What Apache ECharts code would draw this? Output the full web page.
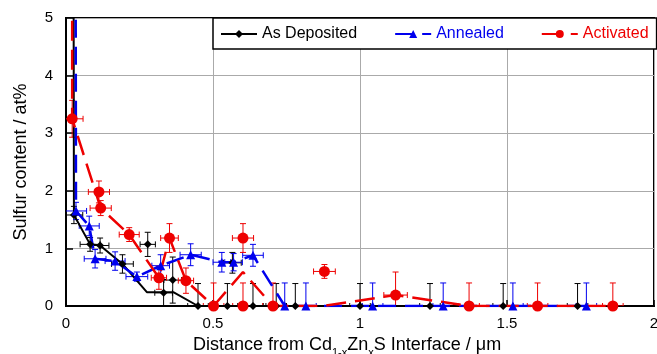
<!DOCTYPE html>
<html>
<head>
<meta charset="utf-8">
<script src="https://cdn.jsdelivr.net/npm/echarts@6/dist/echarts.min.js"></script>
<style>html,body{margin:0;padding:0;background:#fff}#c{width:657px;height:354px}</style>
</head>
<body>
<div id="c"></div>
<script>
// ---- data ----
var seriesNames = ['As Deposited', 'Annealed', 'Activated'];
var xTicks = ['0', '0.5', '1', '1.5', '2'];
var yTicks = ['0', '1', '2', '3', '4', '5'];

// measured points: [x, y, xErr, yErrMinus, yErrPlus]
var depositedPoints = [
  [0.027, 1.58, 0.03, 0.15, 0.15],
  [0.082, 1.07, 0.034, 0.12, 0.12],
  [0.116, 1.05, 0.03, 0.13, 0.13],
  [0.192, 0.73, 0.037, 0.16, 0.16],
  [0.278, 1.07, 0.026, 0.21, 0.21],
  [0.332, 0.23, 0.03, 0.23, 0.23],
  [0.363, 0.45, 0.03, 0.40, 0.40],
  [0.449, 0, 0.035, 0, 0.39],
  [0.549, 0, 0.035, 0, 0.39],
  [0.566, 0.75, 0.03, 0.18, 0.18],
  [0.636, 0, 0.035, 0, 0.39],
  [0.715, 0, 0.035, 0, 0.39],
  [0.78, 0, 0.035, 0, 0.39],
  [1.0, 0, 0.035, 0, 0.39],
  [1.238, 0, 0.035, 0, 0.39],
  [1.487, 0, 0.035, 0, 0.39],
  [1.74, 0, 0.035, 0, 0.39]
];
var annealedPoints = [
  [0.034, 1.65, 0.036, 0.15, 0.15],
  [0.079, 1.39, 0.034, 0.17, 0.17],
  [0.099, 0.82, 0.037, 0.16, 0.16],
  [0.167, 0.78, 0.034, 0.16, 0.16],
  [0.241, 0.51, 0.037, 0.08, 0.08],
  [0.322, 0.70, 0.03, 0.19, 0.19],
  [0.424, 0.89, 0.036, 0.19, 0.19],
  [0.53, 0.76, 0.03, 0.17, 0.17],
  [0.57, 0.76, 0.03, 0.15, 0.15],
  [0.636, 0.88, 0.035, 0.19, 0.19],
  [0.744, 0, 0.035, 0, 0.40],
  [0.816, 0, 0.035, 0, 0.40],
  [1.043, 0, 0.035, 0, 0.40],
  [1.283, 0, 0.035, 0, 0.40],
  [1.52, 0, 0.035, 0, 0.40],
  [1.77, 0, 0.035, 0, 0.40]
];
var activatedPoints = [
  [0.021, 3.25, 0.037, 0.32, 0.32],
  [0.112, 1.98, 0.036, 0.19, 0.19],
  [0.118, 1.70, 0.036, 0.13, 0.13],
  [0.215, 1.24, 0.034, 0.12, 0.12],
  [0.316, 0.49, 0.026, 0.20, 0.20],
  [0.352, 1.18, 0.03, 0.25, 0.25],
  [0.408, 0.44, 0.026, 0.22, 0.22],
  [0.502, 0, 0.035, 0, 0.40],
  [0.602, 1.18, 0.036, 0.25, 0.25],
  [0.602, 0, 0.035, 0, 0.40],
  [0.704, 0, 0.035, 0, 0.40],
  [0.879, 0.60, 0.037, 0.12, 0.12],
  [1.121, 0.19, 0.04, 0.40, 0.40],
  [1.371, 0, 0.035, 0, 0.40],
  [1.604, 0, 0.035, 0, 0.40],
  [1.86, 0, 0.035, 0, 0.40]
];
// connecting curves (first vertex lies above the visible range)
var depositedLine = [[0.024, 12], [0.027, 1.58], [0.082, 1.07], [0.116, 1.05], [0.192, 0.73], [0.275, 0.24], [0.365, 0.24], [0.449, 0], [1.74, 0]];
var annealedLine = [[0.031, 12], [0.034, 1.65], [0.079, 1.39], [0.099, 0.82], [0.167, 0.78], [0.241, 0.51], [0.322, 0.70], [0.424, 0.89], [0.53, 0.76], [0.57, 0.76], [0.636, 0.88], [0.744, 0], [1.77, 0]];
var activatedLine = [[0.021, 12], [0.021, 3.25], [0.118, 1.70], [0.215, 1.24], [0.316, 0.49], [0.352, 1.18], [0.408, 0.44], [0.502, 0], [0.602, 0.59], [0.704, 0], [0.875, 0], [1.121, 0.19], [1.371, 0], [1.86, 0]];

var colors = ['#000000', '#0000ee', '#ee0000'];
var FONT = 'Liberation Sans, Arial, sans-serif';

function errRender(color) {
  return function (params, api) {
    var x = api.value(0), y = api.value(1), xe = api.value(2), ylo = api.value(3), yhi = api.value(4);
    var l = api.coord([Math.max(0, x - xe), y]);
    var r = api.coord([x + xe, y]);
    var t = api.coord([x, Math.min(5, y + yhi)]);
    var b = api.coord([x, Math.max(0, y - ylo)]);
    var cap = 3;
    var st = {stroke: color, lineWidth: 1};
    var ch = [
      {type: 'line', shape: {x1: l[0], y1: l[1], x2: r[0], y2: r[1]}, style: st},
      {type: 'line', shape: {x1: r[0], y1: r[1] - cap, x2: r[0], y2: r[1] + cap}, style: st},
      {type: 'line', shape: {x1: t[0], y1: t[1], x2: b[0], y2: b[1]}, style: st},
      {type: 'line', shape: {x1: t[0] - cap, y1: t[1], x2: t[0] + cap, y2: t[1]}, style: st}
    ];
    if (x - xe > 0) ch.push({type: 'line', shape: {x1: l[0], y1: l[1] - cap, x2: l[0], y2: l[1] + cap}, style: st});
    if (ylo > 0) ch.push({type: 'line', shape: {x1: b[0] - cap, y1: b[1], x2: b[0] + cap, y2: b[1]}, style: st});
    return {type: 'group', children: ch};
  };
}

var pointSets = [depositedPoints, annealedPoints, activatedPoints];
var lineSets = [depositedLine, annealedLine, activatedLine];
var symbols = ['diamond', 'triangle', 'circle'];
var symSizes = [8, 9, 11];
var dashes = ['solid', [18, 9], [20, 9]];
var widths = [2, 2.5, 2.5];

var series = [];
for (var i = 0; i < 3; i++) {
  series.push({
    name: seriesNames[i] + ' err', type: 'custom', renderItem: errRender(colors[i]),
    data: pointSets[i], z: 2, clip: true, silent: true
  });
}
for (var i = 0; i < 3; i++) {
  series.push({
    name: seriesNames[i], type: 'line', data: lineSets[i], showSymbol: false,
    symbol: symbols[i], symbolSize: symSizes[i], clip: true, z: 3,
    itemStyle: {color: colors[i]},
    lineStyle: {color: colors[i], width: widths[i], type: dashes[i]}
  });
}
for (var i = 0; i < 3; i++) {
  series.push({
    name: seriesNames[i] + ' pts', type: 'scatter',
    data: pointSets[i].map(function (p) { return [p[0], p[1]]; }),
    symbol: symbols[i], symbolSize: symSizes[i], z: 4,
    itemStyle: {color: colors[i], opacity: 1}
  });
}

var chart = echarts.init(document.getElementById('c'), null, {renderer: 'canvas'});
chart.setOption({
  animation: false,
  backgroundColor: '#ffffff',
  grid: {left: 66, right: 3, top: 18, bottom: 48, show: true, borderColor: '#000', borderWidth: 2,
    backgroundColor: 'transparent', outerBoundsMode: 'none', containLabel: false},
  legend: {
    data: seriesNames.map(function (n, i) { return {name: n, textStyle: {color: colors[i]}}; }),
    left: 213, top: 18, orient: 'horizontal',
    itemWidth: 36, itemHeight: 10, itemGap: 37,
    padding: [8, 8, 7, 7], borderColor: '#000', borderWidth: 1.5, backgroundColor: '#fff',
    textStyle: {fontSize: 16, fontFamily: FONT},
    selectedMode: false
  },
  xAxis: {
    type: 'value', min: 0, max: 2, interval: 0.5,
    axisLine: {show: true, lineStyle: {color: '#000', width: 2}},
    axisTick: {show: true, inside: true, length: 6, lineStyle: {color: '#000', width: 1.5}},
    axisLabel: {color: '#000', fontSize: 15, fontFamily: FONT, margin: 10,
      formatter: function (v) { return xTicks[Math.round(v / 0.5)]; }},
    splitLine: {show: true, lineStyle: {color: '#aaaaaa', width: 1}},
    name: 'Distance from Cd{s|1-x}Zn{s|x}S Interface / μm', nameLocation: 'middle', nameGap: 24,
    nameTextStyle: {color: '#000', fontSize: 18, fontFamily: FONT, padding: [0, 26, 0, 0],
      rich: {s: {fontSize: 11, fontFamily: FONT, color: '#000', padding: [16, 0, 0, 0]}}}
  },
  yAxis: {
    type: 'value', min: 0, max: 5, interval: 1,
    axisLine: {show: true, lineStyle: {color: '#000', width: 2}},
    axisTick: {show: true, inside: true, length: 7, lineStyle: {color: '#000', width: 1.5}},
    axisLabel: {color: '#000', fontSize: 15, fontFamily: FONT, margin: 13,
      formatter: function (v) { return yTicks[Math.round(v)]; }},
    splitLine: {show: true, lineStyle: {color: '#aaaaaa', width: 1}},
    name: 'Sulfur content / at%', nameLocation: 'middle', nameGap: 36, nameRotate: 90,
    nameTextStyle: {color: '#000', fontSize: 18, fontFamily: FONT}
  },
  series: series
});
</script>
</body>
</html>
